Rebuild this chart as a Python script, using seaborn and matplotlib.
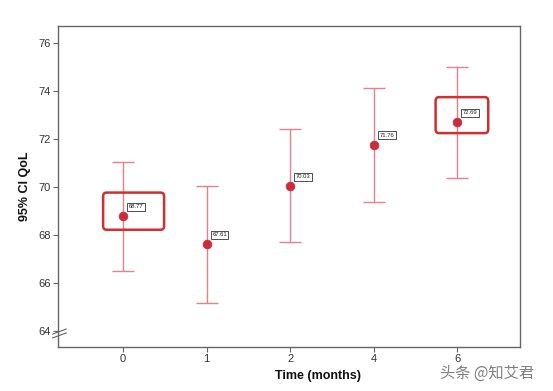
import matplotlib
matplotlib.use("Agg")
import matplotlib.pyplot as plt
import seaborn as sns
import pandas as pd
from matplotlib.patches import FancyBboxPatch

months = ["0", "1", "2", "4", "6"]
means = [68.77, 67.61, 70.03, 71.76, 72.69]
ci_low = [66.51, 65.17, 67.71, 69.38, 70.38]
ci_high = [71.04, 70.04, 72.42, 74.13, 75.00]
labels = ["68.77", "67.61", "70.03", "71.76", "72.69"]
yticks = [64, 66, 68, 70, 72, 74, 76]
highlight = ["0", "6"]

df = pd.DataFrame({"month": months, "mean": means, "lo": ci_low, "hi": ci_high, "label": labels})

sns.set_style("white")
plt.rcParams["font.family"] = ["Liberation Sans", "DejaVu Sans"]

fig = plt.figure(figsize=(5.53, 3.91), dpi=100)
ax = fig.add_axes([0.1049, 0.1125, 0.8354, 0.8218])

pos = {m: i for i, m in enumerate(months)}
xs = [pos[m] for m in df["month"]]

err_color = "#e8808c"
pt_color = "#cc2b3c"
ax.errorbar(xs, df["mean"], yerr=[df["mean"] - df["lo"], df["hi"] - df["mean"]],
            fmt="none", ecolor=err_color, elinewidth=1.0, capsize=8, capthick=1.0, zorder=2)
sns.scatterplot(data=df, x="month", y="mean", ax=ax, color=pt_color, s=40,
                edgecolor=pt_color, linewidth=0.5, zorder=3, legend=False)

for x, y, lab in zip(xs, df["mean"], df["label"]):
    ax.annotate(lab, (x, y), xytext=(4, 5), textcoords="offset points",
                fontsize=4.2, color="#222222", va="bottom", ha="left",
                bbox=dict(boxstyle="square,pad=0.25", fc="white", ec="#333333", lw=0.6),
                zorder=5)

# highlight boxes
box_ext = {"0": (-0.24, 0.49, 68.21, 69.76), "6": (-0.26, 0.37, 72.24, 73.74)}
for m in highlight:
    x0, x1, y0, y1 = box_ext[m]
    p = pos[m]
    rect = FancyBboxPatch((p + x0, y0), x1 - x0, y1 - y0,
                          boxstyle="round,pad=0,rounding_size=0.04",
                          fc="none", ec="#d03030", lw=1.8, zorder=4,
                          mutation_aspect=4)
    ax.add_patch(rect)

ax.set_xlim(-0.78, 4.75)
ax.set_ylim(63.32, 76.72)
ax.set_yticks(yticks)
ax.set_yticklabels([str(t) for t in yticks])

spine_c = "#666666"
for s in ax.spines.values():
    s.set_color(spine_c)
    s.set_linewidth(1.0)
ax.tick_params(axis="both", which="major", direction="out", length=3.5, width=0.8,
               color=spine_c, labelsize=8, labelcolor="#333333", pad=1.5,
               left=True, bottom=True)

ax.set_xlabel("Time (months)", fontsize=9, fontweight="bold", color="#111111")
ax.set_ylabel("95% CI QoL", fontsize=9, fontweight="bold", color="#111111")
ax.xaxis.set_label_coords(0.563, -0.072)
ax.yaxis.set_label_coords(-0.058, 0.5)

# axis break marks
for dy in (0.0, 0.012):
    ax.plot([-0.012, 0.018], [0.036 + dy - 0.008, 0.036 + dy + 0.008],
            transform=ax.transAxes, color=spine_c, lw=0.8, clip_on=False, zorder=6)

fig.text(0.965, 0.045, "头条 @知艾君", fontsize=11, color="#555555", ha="right", va="center",
         family=["Noto Sans CJK SC", "DejaVu Sans"], alpha=0.75)

fig.savefig("out.png", dpi=100)
